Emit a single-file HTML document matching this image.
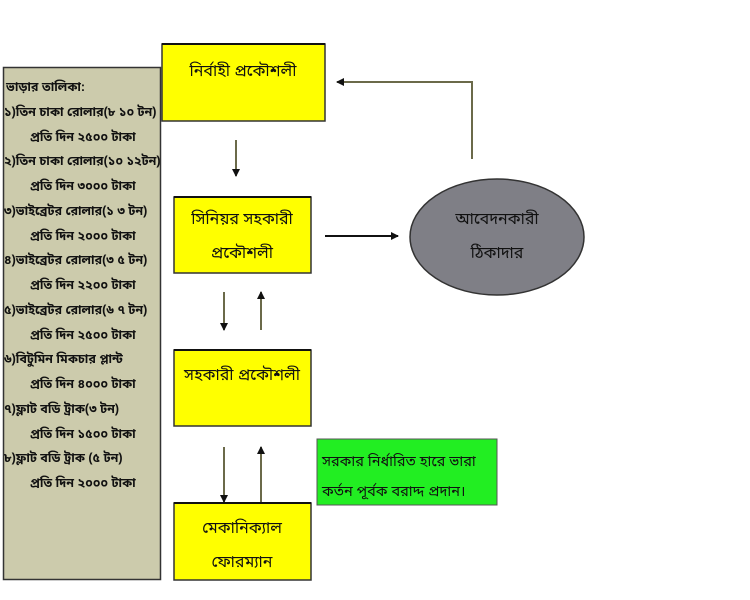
<!DOCTYPE html>
<html><head><meta charset="utf-8"><style>
html,body{margin:0;padding:0;background:#fff;}
svg{display:block;font-family:"Liberation Sans","Noto Sans Bengali","Lohit Bengali",sans-serif;}
</style></head><body>
<svg width="750" height="600" xmlns="http://www.w3.org/2000/svg">
<defs>
<marker id="a" markerWidth="8" markerHeight="8" refX="7" refY="4" orient="auto" markerUnits="userSpaceOnUse"><path d="M0,0 L8,4 L0,8 z" fill="#111"/></marker>
</defs>
<rect x="3.5" y="67.5" width="157" height="512" fill="#cccbac" stroke="#333" stroke-width="1.5"/>
<g font-size="12.5" font-weight="bold" fill="#111">
<text x="6" y="91">ভাড়ার তালিকা:</text>
<text x="4" y="116">১)তিন চাকা রোলার(৮ ১০ টন)</text>
<text x="30" y="141">প্রতি দিন ২৫০০ টাকা</text>
<text x="4" y="165">২)তিন চাকা রোলার(১০ ১২টন)</text>
<text x="30" y="190">প্রতি দিন ৩০০০ টাকা</text>
<text x="4" y="215">৩)ভাইব্রেটর রোলার(১ ৩ টন)</text>
<text x="30" y="240">প্রতি দিন ২০০০ টাকা</text>
<text x="4" y="264">৪)ভাইব্রেটর রোলার(৩ ৫ টন)</text>
<text x="30" y="289">প্রতি দিন ২২০০ টাকা</text>
<text x="4" y="314">৫)ভাইব্রেটর রোলার(৬ ৭ টন)</text>
<text x="30" y="339">প্রতি দিন ২৫০০ টাকা</text>
<text x="4" y="363">৬)বিটুমিন মিকচার প্লান্ট</text>
<text x="30" y="388">প্রতি দিন ৪০০০ টাকা</text>
<text x="4" y="413">৭)ফ্লাট বডি ট্রাক(৩ টন)</text>
<text x="30" y="438">প্রতি দিন ১৫০০ টাকা</text>
<text x="4" y="462">৮)ফ্লাট বডি ট্রাক (৫ টন)</text>
<text x="30" y="487">প্রতি দিন ২০০০ টাকা</text>
</g>
<g stroke="#333" stroke-width="1.5" fill="#ffff00">
<rect x="162" y="44" width="163" height="77"/>
<rect x="174" y="197" width="137" height="76"/>
<rect x="174" y="350" width="137" height="76"/>
<rect x="174" y="503" width="137" height="77"/>
</g>
<g stroke="#111" stroke-width="2">
<line x1="162" y1="44" x2="325" y2="44"/><line x1="174" y1="197" x2="311" y2="197"/>
<line x1="174" y1="350" x2="311" y2="350"/><line x1="174" y1="503" x2="311" y2="503"/>
</g>
<rect x="317" y="439" width="180" height="66" fill="#22ee22" stroke="#555" stroke-width="1"/>
<ellipse cx="497" cy="237" rx="87" ry="58" fill="#7f7f86" stroke="#333" stroke-width="1.5"/>
<g font-size="16" fill="#111" text-anchor="middle">
<text x="243" y="76">নির্বাহী প্রকৌশলী</text>
<text x="242" y="224">সিনিয়র সহকারী</text>
<text x="242" y="258">প্রকৌশলী</text>
<text x="242" y="380">সহকারী প্রকৌশলী</text>
<text x="242" y="533">মেকানিক্যাল</text>
<text x="242" y="567">ফোরম্যান</text>
<text x="497" y="224">আবেদনকারী</text>
<text x="497" y="258">ঠিকাদার</text>
</g>
<g font-size="14.5" fill="#111">
<text x="322" y="466">সরকার নির্ধারিত হারে ভারা</text>
<text x="322" y="496">কর্তন পূর্বক বরাদ্দ প্রদান।</text>
</g>
<g stroke="#6b6a4a" stroke-width="2" fill="none" marker-end="url(#a)">
<line x1="236" y1="140" x2="236" y2="176"/>
<line x1="224" y1="292" x2="224" y2="330"/>
<line x1="261" y1="330" x2="261" y2="292"/>
<line x1="224" y1="447" x2="224" y2="502"/>
<line x1="261" y1="502" x2="261" y2="447"/>
<polyline points="472,159 472,82 337,82"/>
</g>
<line x1="325" y1="236" x2="398" y2="236" stroke="#111" stroke-width="2" marker-end="url(#a)"/>
</svg>
</body></html>
